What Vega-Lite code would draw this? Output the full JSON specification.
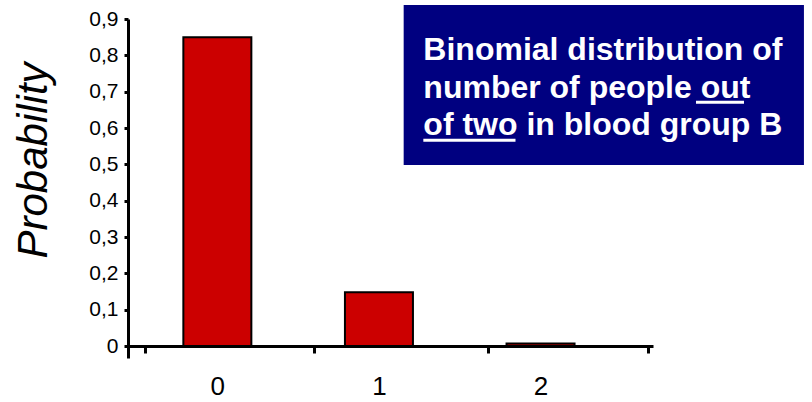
{
  "$schema": "https://vega.github.io/schema/vega-lite/v6.json",
  "width": 525,
  "height": 339,
  "autosize": {"type": "none"},
  "padding": {"left": 128, "top": 19, "right": 159, "bottom": 44},
  "background": "white",
  "config": {"view": {"stroke": null}, "font": "Liberation Sans"},
  "data": {"values": [{"k": 0, "p": 0.85}, {"k": 1, "p": 0.148}, {"k": 2, "p": 0.007}]},
  "resolve": {"axis": {"x": "independent", "y": "independent"}},
  "layer": [
    {
      "mark": {"type": "bar", "size": 68, "fill": "#CC0000", "stroke": "black", "strokeWidth": 2},
      "encoding": {
        "x": {
          "field": "k",
          "type": "quantitative",
          "scale": {"domain": [-0.522, 2.665], "nice": false, "zero": false},
          "axis": {
            "title": null,
            "grid": false,
            "offset": -12,
            "values": [-0.449, 0, 0.601, 1, 1.675, 2, 2.665],
            "labelExpr": "datum.value % 1 == 0 ? format(datum.value, 'd') : ''",
            "labelOverlap": false,
            "labelFlush": false,
            "labelFontSize": 26,
            "labelColor": "black",
            "labelPadding": 20,
            "domainColor": "black",
            "domainWidth": 3,
            "tickColor": "black",
            "tickWidth": 3,
            "tickSize": 7,
            "tickOpacity": {"condition": {"test": "datum.value % 1 == 0", "value": 0}, "value": 1}
          }
        },
        "y": {
          "field": "p",
          "type": "quantitative",
          "scale": {"domain": [-0.033, 0.9], "nice": false, "zero": false},
          "axis": {
            "title": "Probability",
            "grid": false,
            "values": [0, 0.1, 0.2, 0.3, 0.4, 0.5, 0.6, 0.7, 0.8, 0.9],
            "labelExpr": "datum.value == 0 ? '0' : replace(format(datum.value, '.1f'), '.', ',')",
            "labelOverlap": false,
            "labelFontSize": 21,
            "labelColor": "black",
            "labelPadding": 6,
            "domainColor": "black",
            "domainWidth": 3,
            "tickColor": "black",
            "tickWidth": 3,
            "tickSize": 4,
            "titleFontSize": 42,
            "titleFontStyle": "italic",
            "titleFontWeight": "normal",
            "titleColor": "black",
            "titleX": -95,
            "titleY": 141,
            "titleAlign": "center",
            "titleBaseline": "middle",
            "titleAngle": 270
          }
        }
      }
    },
    {
      "data": {"values": [{}]},
      "mark": {"type": "rect", "fill": "#000080", "clip": false},
      "encoding": {
        "x": {"datum": 1.153, "axis": null},
        "x2": {"datum": 3.63},
        "y": {"datum": 0.9386, "axis": null},
        "y2": {"datum": 0.498}
      }
    },
    {
      "data": {"values": [{}]},
      "mark": {
        "type": "text",
        "text": ["Binomial distribution of", "number of people out", "of two in blood group B"],
        "align": "left",
        "baseline": "alphabetic",
        "fontSize": 32,
        "fontWeight": "bold",
        "color": "white",
        "lineHeight": 37.5,
        "clip": false
      },
      "encoding": {"x": {"datum": 1.2747, "axis": null}, "y": {"datum": 0.787, "axis": null}}
    },
    {
      "data": {"values": [{}]},
      "mark": {"type": "rule", "color": "white", "strokeWidth": 3, "clip": false},
      "encoding": {"x": {"datum": 2.962, "axis": null}, "x2": {"datum": 3.259}, "y": {"datum": 0.671, "axis": null}}
    },
    {
      "data": {"values": [{}]},
      "mark": {"type": "rule", "color": "white", "strokeWidth": 3, "clip": false},
      "encoding": {"x": {"datum": 1.2747, "axis": null}, "x2": {"datum": 1.845}, "y": {"datum": 0.5666, "axis": null}}
    }
  ]
}
